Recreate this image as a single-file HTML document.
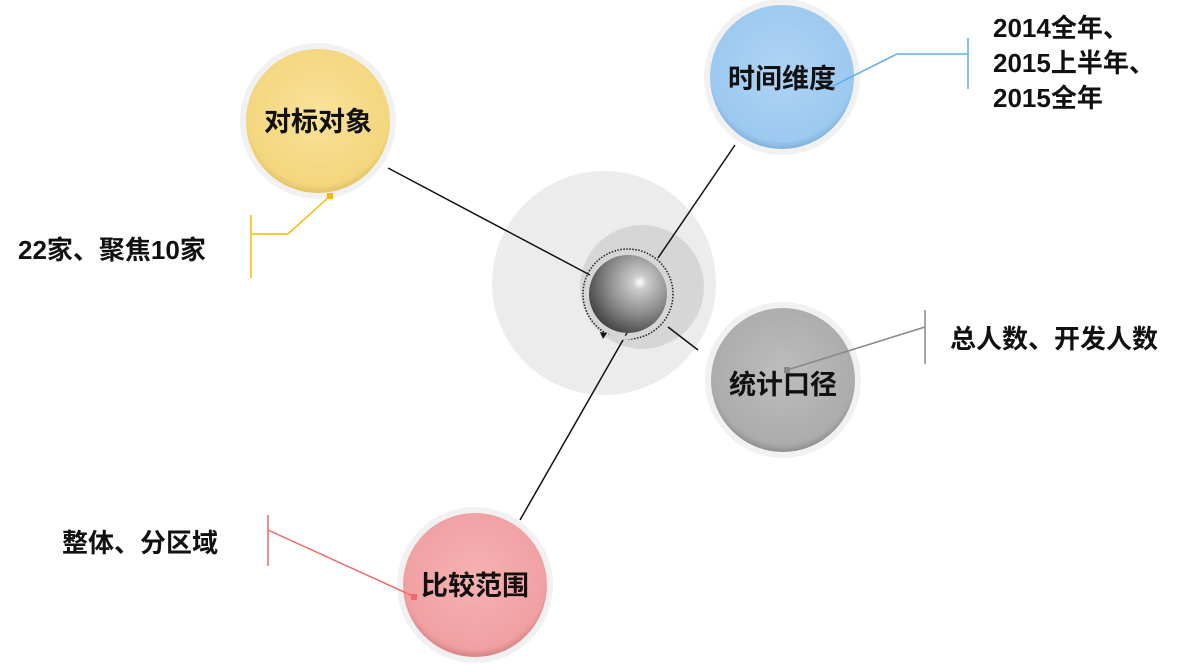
<!DOCTYPE html>
<html><head><meta charset="utf-8"><style>
html,body{margin:0;padding:0;background:#fff;width:1191px;height:665px;overflow:hidden}
svg{display:block}
text{font-family:"Liberation Sans","Noto Sans CJK SC",sans-serif;font-weight:bold;fill:#111}
</style></head><body>
<svg width="1191" height="665" viewBox="0 0 1191 665">
<defs>
<radialGradient id="sph" cx="0.65" cy="0.35" r="0.75">
<stop offset="0" stop-color="#fff"/><stop offset="0.12" stop-color="#ccc"/><stop offset="0.55" stop-color="#8a8a8a"/><stop offset="1" stop-color="#3a3a3a"/></radialGradient>
<radialGradient id="yl" cx="0.5" cy="0.45" r="0.55"><stop offset="0" stop-color="#f9e29a"/><stop offset="0.9" stop-color="#f3d67e"/><stop offset="1" stop-color="#e2c163"/></radialGradient>
<radialGradient id="bl" cx="0.5" cy="0.45" r="0.55"><stop offset="0" stop-color="#aed4f4"/><stop offset="0.9" stop-color="#9cc9f0"/><stop offset="1" stop-color="#80b0da"/></radialGradient>
<radialGradient id="gr" cx="0.5" cy="0.45" r="0.55"><stop offset="0" stop-color="#bdbdbd"/><stop offset="0.9" stop-color="#acacac"/><stop offset="1" stop-color="#8e8e8e"/></radialGradient>
<radialGradient id="pk" cx="0.5" cy="0.45" r="0.55"><stop offset="0" stop-color="#f6b2b2"/><stop offset="0.9" stop-color="#f0a0a2"/><stop offset="1" stop-color="#d88284"/></radialGradient>
</defs>
<circle cx="604" cy="283" r="112" fill="#ececec"/>
<circle cx="642" cy="287" r="62" fill="#d6d6d6"/>
<line x1="388" y1="168" x2="590" y2="275" stroke="#111" stroke-width="1.5"/>
<line x1="735" y1="145" x2="658" y2="258" stroke="#111" stroke-width="1.5"/>
<line x1="520" y1="520" x2="627" y2="333" stroke="#111" stroke-width="1.5"/>
<line x1="668" y1="327" x2="698" y2="350" stroke="#111" stroke-width="1.5"/>
<circle cx="628" cy="294" r="45" fill="none" stroke="#222" stroke-width="1.5" stroke-dasharray="1.5 1.5"/>
<path d="M655 322 A45 45 0 0 1 600 333" fill="none" stroke="#d6d6d6" stroke-width="4"/>
<polygon points="600,332 607,333 603,339" fill="#111"/>
<circle cx="628" cy="294" r="39" fill="url(#sph)"/>
<circle cx="318" cy="121" r="78" fill="#f1f1f1"/><circle cx="318" cy="121" r="72" fill="url(#yl)"/>
<circle cx="782" cy="77" r="78" fill="#f1f1f1"/><circle cx="782" cy="77" r="72" fill="url(#bl)"/>
<circle cx="783" cy="380" r="78" fill="#f1f1f1"/><circle cx="783" cy="380" r="72" fill="url(#gr)"/>
<circle cx="475" cy="585" r="78" fill="#f1f1f1"/><circle cx="475" cy="585" r="72" fill="url(#pk)"/>
<polyline points="330,196 288,234 252,234" fill="none" stroke="#f5b800" stroke-width="1.5"/>
<rect x="327" y="193" width="6" height="6" fill="#f5b800"/>
<line x1="251" y1="215" x2="251" y2="278" stroke="#f5b800" stroke-width="1.5"/>
<polyline points="827,89 897,54 968,54" fill="none" stroke="#5aaef0" stroke-width="1.5"/>
<line x1="968" y1="38" x2="968" y2="89" stroke="#5aaef0" stroke-width="1.5"/>
<line x1="787" y1="370" x2="925" y2="327" stroke="#888" stroke-width="1.5"/>
<rect x="784" y="367" width="6" height="6" fill="#888"/>
<line x1="925" y1="310" x2="925" y2="364" stroke="#888" stroke-width="1.5"/>
<line x1="268" y1="530" x2="415" y2="597" stroke="#f06868" stroke-width="1.5"/>
<rect x="411" y="594" width="6" height="6" fill="#f06868"/>
<line x1="268" y1="515" x2="268" y2="566" stroke="#f06868" stroke-width="1.5"/>
<g font-size="27" text-anchor="middle">
<text x="318" y="131">对标对象</text>
<text x="782" y="88">时间维度</text>
<text x="783" y="394">统计口径</text>
<text x="475" y="595">比较范围</text>
</g>
<g font-size="26">
<text x="993" y="37">2014全年、</text>
<text x="993" y="72">2015上半年、</text>
<text x="993" y="107">2015全年</text>
<text x="18" y="259">22家、聚焦10家</text>
<text x="950" y="348">总人数、开发人数</text>
<text x="62" y="552">整体、分区域</text>
</g>
</svg>
</body></html>
